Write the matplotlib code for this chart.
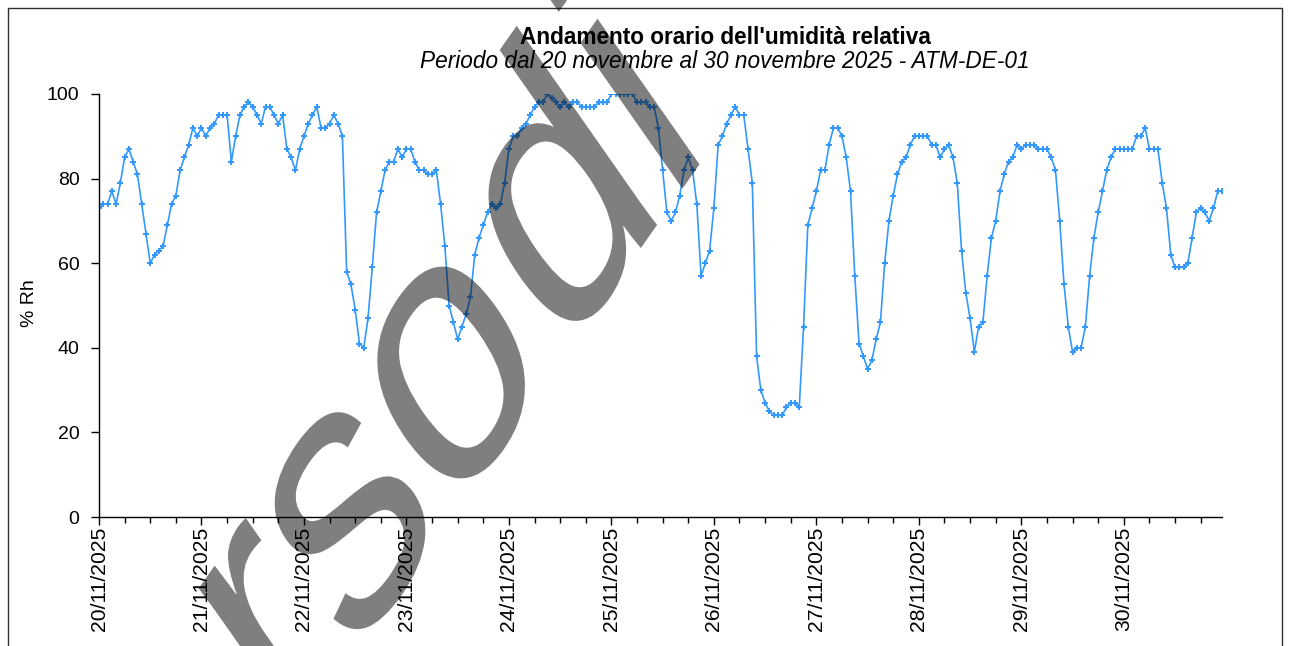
# ==========================================
# Andamento orario umidita relativa - ATM-DE-01
# ==========================================

import numpy as np
import matplotlib
matplotlib.use("Agg")
import matplotlib.pyplot as plt
from matplotlib.patches import Rectangle, PathPatch
from matplotlib.textpath import TextPath
from matplotlib.font_manager import FontProperties
from matplotlib.transforms import Affine2D

# ------------------------------------------
# Data (hourly % Rh, 20/11/2025 00:00 -> 30/11/2025 23:00)
# ------------------------------------------

days = ["20/11/2025", "21/11/2025", "22/11/2025", "23/11/2025", "24/11/2025",
        "25/11/2025", "26/11/2025", "27/11/2025", "28/11/2025", "29/11/2025",
        "30/11/2025"]

rh_20 = [73, 74, 74, 77, 74, 79, 85, 87, 84, 81, 74, 67,
         60, 62, 63, 64, 69, 74, 76, 82, 85, 88, 92, 90]
rh_21 = [92, 90, 92, 93, 95, 95, 95, 84, 90, 95, 97, 98,
         97, 95, 93, 97, 97, 95, 93, 95, 87, 85, 82, 87]
rh_22 = [90, 93, 95, 97, 92, 92, 93, 95, 93, 90, 58, 55,
         49, 41, 40, 47, 59, 72, 77, 82, 84, 84, 87, 85]
rh_23 = [87, 87, 84, 82, 82, 81, 81, 82, 74, 64, 50, 46,
         42, 45, 48, 52, 62, 66, 69, 72, 74, 73, 74, 79]
rh_24 = [87, 90, 90, 92, 93, 95, 97, 98, 98, 100, 99, 98,
         97, 98, 97, 98, 98, 97, 97, 97, 97, 98, 98, 98]
rh_25 = [100, 100, 100, 100, 100, 100, 98, 98, 98, 97, 97, 92,
         82, 72, 70, 72, 76, 82, 85, 82, 74, 57, 60, 63]
rh_26 = [73, 88, 90, 93, 95, 97, 95, 95, 87, 79, 38, 30,
         27, 25, 24, 24, 24, 26, 27, 27, 26, 45, 69, 73]
rh_27 = [77, 82, 82, 88, 92, 92, 90, 85, 77, 57, 41, 38,
         35, 37, 42, 46, 60, 70, 76, 81, 84, 85, 88, 90]
rh_28 = [90, 90, 90, 88, 88, 85, 87, 88, 85, 79, 63, 53,
         47, 39, 45, 46, 57, 66, 70, 77, 81, 84, 85, 88]
rh_29 = [87, 88, 88, 88, 87, 87, 87, 85, 82, 70, 55, 45,
         39, 40, 40, 45, 57, 66, 72, 77, 82, 85, 87, 87]
rh_30 = [87, 87, 87, 90, 90, 92, 87, 87, 87, 79, 73, 62,
         59, 59, 59, 60, 66, 72, 73, 72, 70, 73, 77, 77]

rh = (rh_20 + rh_21 + rh_22 + rh_23 + rh_24 + rh_25 +
      rh_26 + rh_27 + rh_28 + rh_29 + rh_30)
hours = np.arange(len(rh))

# ------------------------------------------
# Figure
# ------------------------------------------

plt.rcParams["font.family"] = ["Liberation Sans", "DejaVu Sans"]

W, H = 1289, 646
fig = plt.figure(figsize=(W / 100, H / 100), dpi=100)
ax = fig.add_axes([99 / W, 1 - 517 / H, (1222 - 99) / W, (517 - 94) / H])

ax.plot(hours, rh, color="#3399ff", linewidth=1.2,
        marker="P", markersize=4.2, markeredgewidth=0)

ax.set_xlim(0, len(rh) - 1)
ax.set_ylim(0, 100)

ax.set_yticks([0, 20, 40, 60, 80, 100])
ax.tick_params(axis="y", labelsize=14, length=6, width=1,
               direction="out", pad=8)

ax.set_xticks(np.arange(0, len(rh), 24))
ax.set_xticklabels(days, rotation=90, fontsize=15.2)
ax.set_xticks(np.arange(0, len(rh), 6), minor=True)
ax.tick_params(axis="x", which="major", length=6, width=1, pad=1)
ax.tick_params(axis="x", which="minor", length=4, width=1)

for side in ["top", "right"]:
    ax.spines[side].set_visible(False)
ax.spines["left"].set_linewidth(1)
ax.spines["bottom"].set_linewidth(1)

fig.text(30 / W, 1 - 303 / H, "% Rh", rotation=90,
         ha="center", va="center", fontsize=14)

fig.text(725 / W, 1 - 37 / H, "Andamento orario dell'umidità relativa",
         ha="center", va="center", fontsize=16.3, fontweight="bold")
fig.text(725 / W, 1 - 62 / H,
         "Periodo dal 20 novembre al 30 novembre 2025 - ATM-DE-01",
         ha="center", va="center", fontsize=16.3, style="italic")

# chart area border
fig.patches.append(Rectangle((8 / W, -0.05), (1282 - 8) / W, 1 - 8 / H + 0.05,
                             transform=fig.transFigure, fill=False,
                             edgecolor="#303030", linewidth=1))

# watermark: rotated and horizontally squeezed, semi transparent
wm_font = FontProperties(family="Liberation Sans")
wm_size = 390
wm_tr = Affine2D().rotate_deg(45).scale(0.7, 1.0).translate(41, -459)
for word, x0 in [("Corso", 0.0), ("di", 2.70 * wm_size)]:
    wm_path = TextPath((x0, 0), word, size=wm_size, prop=wm_font)
    fig.add_artist(PathPatch(wm_path, transform=wm_tr, facecolor="black",
                             edgecolor="none", alpha=0.5, zorder=10))

fig.savefig("out.png", dpi=100)
